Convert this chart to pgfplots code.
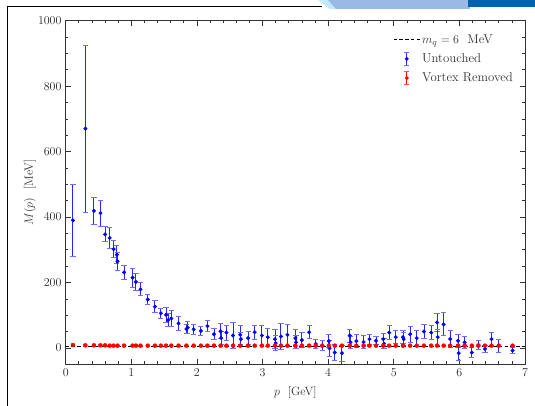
\documentclass[12pt,border=0pt]{standalone}
\usepackage{fontspec}
\usepackage{pgfplots}
\usepackage{pgfplotstable}
\pgfplotsset{compat=1.18}

\definecolor{ublue}{RGB}{0,0,255}
\definecolor{ubar}{RGB}{40,40,255}
\definecolor{ucap}{RGB}{110,110,255}
\definecolor{vred}{RGB}{255,0,0}
\definecolor{vcap}{RGB}{255,80,80}

% Quark mass function, untouched configurations
\pgfplotstableread{
p     M     e
0.11  390   110
0.30  670   255
0.43  419   41
0.53  412   40
0.60  347   23
0.67  336   32
0.73  302   25
0.78  285   28
0.79  265   28
0.89  231   22
1.02  215   29
1.07  202   25
1.14  179   20
1.25  148   15
1.36  126   18
1.45  106   16
1.53  101   24
1.56  85    20
1.61  90    24
1.72  75    22
1.84  58    15
1.86  62    18
1.95  57    15
2.06  52    13
2.16  67    17
2.26  42    17
2.36  51    23
2.37  30    20
2.45  47    23
2.55  38    40
2.66  40    30
2.67  27    20
2.78  30    20
2.88  48    22
2.99  38    30
3.08  33    27
3.19  27    28
3.20  15    22
3.28  35    40
3.38  40    33
3.50  30    25
3.51  17    20
3.60  24    22
3.71  48    20
3.81  12    15
3.91  7     15
4.01  21    20
4.02  -1    25
4.10  -14   25
4.21  -16   25
4.33  38    20
4.34  17    18
4.43  21    20
4.54  18    20
4.63  27    15
4.73  22    12
4.84  27    18
4.85  13    15
4.93  47    22
5.03  33    20
5.14  33    20
5.15  27    20
5.25  42    25
5.35  30    22
5.46  50    22
5.57  47    22
5.66  78    27
5.67  33    25
5.76  72    35
5.86  27    25
5.98  22    20
5.99  -16   22
6.08  17    18
6.19  -14   15
6.29  9     15
6.39  -3    12
6.49  27    20
6.60  7     20
6.81  -8    10
}\untouched

% Quark mass function, vortices removed
\pgfplotstableread{
p     M    e
0.11  9    2
0.30  8    2
0.43  8    2
0.53  8    2
0.60  8    2
0.67  7    2
0.73  7    2
0.79  7    2
0.89  7    2
1.02  7    2
1.07  7    2
1.14  7    2
1.25  7    2
1.36  7    2
1.45  7    2
1.53  7    2
1.61  7    2
1.72  7    2
1.84  7    2
1.95  7    2
2.06  7    2
2.16  7    2
2.26  7    2
2.36  7    2
2.45  7    2
2.55  7    2
2.66  7    2
2.78  7    2
2.88  7    2
2.99  7    2
3.08  7    2
3.19  7    2
3.28  7    2
3.38  7    2
3.50  7    2
3.60  7    2
3.71  7    2
3.81  7    2
3.91  7    2
4.01  7    2
4.10  7    2
4.21  7    2
4.33  7    2
4.43  7    2
4.54  7    2
4.63  7    2
4.73  7    2
4.84  7    2
4.93  7    2
5.03  7    2
5.14  7    2
5.25  7    2
5.35  7    2
5.46  7    2
5.57  7    2
5.66  7    2
5.76  7    2
5.86  7    2
5.98  7    2
6.08  7    2
6.19  7    2
6.29  7    2
6.39  7    2
6.49  7    2
6.60  7    2
6.81  7    2
}\removed

\begin{document}
\begin{tikzpicture}
% page area, with the axis corner at the origin
\path[use as bounding box] (-65.7pt,-41.7pt) rectangle (469.3pt,364.3pt);
% slide frame and header decoration
\begin{scope}[x=1pt, y=1pt, shift={(-65.7pt,-41.7pt)}]
\draw[black, line width=0.8pt] (7,0) -- (7,400) -- (322,400);
\fill[cyan!25] (318,406) -- (328,406) -- (336,397) -- (330,397) -- cycle;
\fill[cyan!55!blue!40!white] (328,406) -- (470,406) -- (470,397) -- (336,397) -- cycle;
\fill[blue!45!cyan!70!black] (468,406) -- (535,406) -- (535,399) -- (468,399) -- cycle;
\end{scope}

\begin{axis}[
  scale only axis,
  width=459.3pt, height=343.6pt,
  xmin=0, xmax=7, ymin=-50, ymax=1000,
  xtick={0,1,...,7}, ytick={0,200,...,1000},
  minor x tick num=4, minor y tick num=3,
  tick align=inside, tick pos=both,
  major tick length=5pt, minor tick length=2.8pt,
  every tick/.style={black!80, line width=0.7pt},
  axis line style={black!80, line width=0.8pt},
  tick label style={black!85},
  yticklabel style={/pgf/number format/1000 sep={}},
  xlabel={$p$ \ [GeV]}, ylabel={$M(p)$ \ [MeV]},
  label style={black!80},
  xlabel style={at={(axis description cs:0.5,-0.082)}, anchor=center},
  ylabel style={at={(axis description cs:-0.078,0.5)}, anchor=center},
  legend cell align=left,
  legend style={at={(axis description cs:0.985,0.972)}, anchor=north east,
    draw=none, fill=none, row sep=4.5pt,
    font=\fontsize{12.8}{15}\selectfont\color{black!80}},
]
\addplot[black, line width=0.9pt, dash pattern=on 3.5pt off 2.2pt,
  legend image code/.code={\draw[black, line width=0.9pt, dash pattern=on 3.5pt off 2.2pt] (0pt,0pt) -- (26pt,0pt);}]
  coordinates {(0,6) (7,6)};
\addlegendentry{$m_q = 6$ \ MeV}

\addplot[ublue, only marks, mark=*, mark size=1.8pt,
  mark options={draw=ublue, fill=ublue},
  legend image code/.code={
    \draw[ubar, line width=0.9pt] (13pt,-6.5pt) -- (13pt,6.5pt);
    \draw[ucap, line width=0.9pt] (10.6pt,-6.5pt) -- (15.4pt,-6.5pt) (10.6pt,6.5pt) -- (15.4pt,6.5pt);
    \fill[ublue] (13pt,0pt) circle (1.8pt);},
  error bars/.cd, y dir=both, y explicit,
  error bar style={draw=ubar, line width=0.9pt},
  error mark options={rotate=90, mark size=2.6pt, line width=0.9pt, draw=ucap}]
  table[x=p, y=M, y error=e] {\untouched};
\addlegendentry{Untouched}

\addplot[vred, only marks, mark=*, mark size=2pt,
  mark options={draw=vred, fill=vred},
  legend image code/.code={
    \draw[vred, line width=0.9pt] (13pt,-6.5pt) -- (13pt,6.5pt);
    \draw[vcap, line width=0.9pt] (10.6pt,-6.5pt) -- (15.4pt,-6.5pt) (10.6pt,6.5pt) -- (15.4pt,6.5pt);
    \fill[vred] (13pt,0pt) circle (1.8pt);},
  error bars/.cd, y dir=both, y explicit,
  error bar style={draw=vred, line width=0.8pt},
  error mark options={rotate=90, mark size=2pt, line width=0.8pt, draw=vcap}]
  table[x=p, y=M, y error=e] {\removed};
\addlegendentry{Vortex Removed}
\end{axis}
\end{tikzpicture}
\end{document}
